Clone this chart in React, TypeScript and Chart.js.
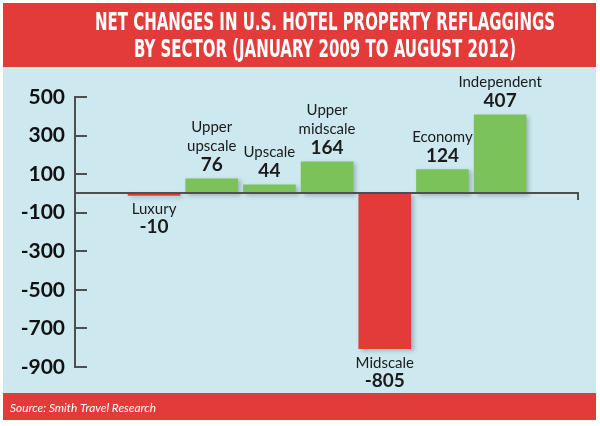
import React, { useEffect, useRef } from "react";
import { Chart, registerables } from "chart.js";

Chart.register(...registerables);

// Net change in reflagged hotel properties, by sector
const categories = [
  "Luxury",
  "Upper upscale",
  "Upscale",
  "Upper midscale",
  "Midscale",
  "Economy",
  "Independent",
];
const values = [-10, 76, 44, 164, -805, 124, 407];
const yTicks = [500, 300, 100, -100, -300, -500, -700, -900];

const titleLines = [
  "NET CHANGES IN U.S. HOTEL PROPERTY REFLAGGINGS",
  "BY SECTOR (JANUARY 2009 TO AUGUST 2012)",
];
const sourceText = "Source: Smith Travel Research";

const RED = "#e23b39";
const GREEN = "#7cc25b";
const PANEL = "#cde9ef";
const INK = "#1b1b1b";
const AXIS = "#4f4f4f";

const W = 600;
const H = 426;

// Card background, header band and footer band
const framePlugin = {
  id: "frame",
  beforeDraw(chart: any) {
    const ctx = chart.ctx;
    ctx.save();
    ctx.fillStyle = "#ffffff";
    ctx.fillRect(0, 0, W, H);
    ctx.fillStyle = PANEL;
    ctx.fillRect(3, 3, 593, 417);
    ctx.fillStyle = RED;
    ctx.fillRect(3, 3, 593, 64);
    ctx.fillRect(3, 393, 593, 27);
    ctx.restore();
  },
  afterDraw(chart: any) {
    const ctx = chart.ctx;
    ctx.save();
    ctx.fillStyle = "#ffffff";
    // condensed headline
    ctx.font = 'bold 25px "DejaVu Sans Condensed", "Liberation Sans Narrow", Roboto, sans-serif';
    const k = 460 / ctx.measureText(titleLines[0]).width;
    const baselines = [30, 57];
    titleLines.forEach((line, i) => {
      ctx.save();
      ctx.translate(325, baselines[i]);
      ctx.scale(k, 1);
      ctx.textAlign = "center";
      ctx.textBaseline = "alphabetic";
      ctx.fillText(line, 0, 0);
      ctx.restore();
    });
    // source note
    ctx.font = 'italic 12px Lato, "Open Sans", sans-serif';
    const ks = Math.min(1.1, 146 / ctx.measureText(sourceText).width);
    ctx.save();
    ctx.translate(10, 412);
    ctx.scale(ks, 1);
    ctx.textAlign = "left";
    ctx.fillText(sourceText, 0, 0);
    ctx.restore();
    ctx.restore();
  },
};

// Soft drop shadow under the bars
const shadowPlugin = {
  id: "barShadow",
  beforeDatasetDraw(chart: any) {
    const ctx = chart.ctx;
    ctx.save();
    ctx.shadowColor = "rgba(40, 60, 70, 0.28)";
    ctx.shadowOffsetX = 3;
    ctx.shadowOffsetY = 2;
    ctx.shadowBlur = 4;
  },
  afterDatasetDraw(chart: any) {
    chart.ctx.restore();
  },
};

// Inward tick marks, zero baseline and the sector / value labels
const axisAndLabelsPlugin = {
  id: "axisAndLabels",
  afterDatasetsDraw(chart: any) {
    const ctx = chart.ctx;
    const y = chart.scales.y;
    const area = chart.chartArea;
    ctx.save();
    ctx.strokeStyle = AXIS;
    ctx.lineWidth = 2;
    y.ticks.forEach((t: any) => {
      const py = Math.round(y.getPixelForValue(t.value));
      ctx.beginPath();
      ctx.moveTo(area.left, py);
      ctx.lineTo(area.left + 12, py);
      ctx.stroke();
    });
    const y0 = Math.round(y.getPixelForValue(0));
    ctx.beginPath();
    ctx.moveTo(area.left, y0);
    ctx.lineTo(area.right, y0);
    ctx.lineTo(area.right, y0 + 7);
    ctx.stroke();

    const meta = chart.getDatasetMeta(0);
    ctx.fillStyle = INK;
    ctx.textAlign = "center";
    ctx.textBaseline = "alphabetic";
    meta.data.forEach((bar: any, i: number) => {
      const v = values[i];
      const lines = categories[i].split(" ");
      const x = bar.x;
      const nameFont = '15px Lato, "Open Sans", sans-serif';
      const valueFont = 'bold 19px Lato, "Open Sans", sans-serif';
      if (v >= 0) {
        const top = Math.min(bar.y, bar.base);
        const vb = top - 8;
        ctx.font = valueFont;
        ctx.fillText(String(v), x, vb);
        ctx.font = nameFont;
        lines
          .slice()
          .reverse()
          .forEach((ln: string, j: number) => {
            ctx.fillText(ln, x, vb - 20 - j * 19);
          });
      } else {
        const bottom = Math.max(bar.y, bar.base);
        let nb = bottom + 19;
        ctx.font = nameFont;
        lines.forEach((ln: string) => {
          ctx.fillText(ln, x, nb);
          nb += 19;
        });
        ctx.font = valueFont;
        ctx.fillText(String(v), x, nb);
      }
    });
    ctx.restore();
  },
};

export default function App() {
  const canvasRef = useRef<HTMLCanvasElement | null>(null);

  useEffect(() => {
    document.body.style.margin = "0";
    const canvas = canvasRef.current;
    if (!canvas) return;
    const chart = new Chart(canvas, {
      type: "bar",
      data: {
        datasets: [
          {
            data: values.map((v, i) => ({ x: i, y: v })),
            backgroundColor: values.map((v) => (v < 0 ? RED : GREEN)),
            borderWidth: 0,
            barThickness: 52,
          },
        ],
      },
      options: {
        animation: false,
        responsive: false,
        events: [],
        layout: { padding: { left: 0, top: 97, right: 22, bottom: 59 } },
        plugins: {
          legend: { display: false },
          tooltip: { enabled: false },
          title: { display: false },
        },
        scales: {
          x: { type: "linear", min: -1.37, max: 7.35, offset: false, display: false },
          y: {
            min: -900,
            max: 500,
            afterBuildTicks: (scale: any) => {
              scale.ticks = yTicks.map((v) => ({ value: v }));
            },
            afterFit: (scale: any) => {
              scale.width = 75;
            },
            grid: { display: false, drawTicks: false },
            border: { display: true, color: AXIS, width: 2 },
            ticks: {
              padding: 10,
              color: "#111111",
              font: { family: 'Lato, "Open Sans", sans-serif', weight: "bold", size: 21 },
            },
          },
        },
      } as any,
      plugins: [framePlugin, shadowPlugin, axisAndLabelsPlugin],
    });
    return () => chart.destroy();
  }, []);

  return (
    <div style={{ position: "absolute", left: 0, top: 0, width: W, height: H }}>
      <canvas ref={canvasRef} width={W} height={H} style={{ width: W, height: H, display: "block" }} />
    </div>
  );
}
